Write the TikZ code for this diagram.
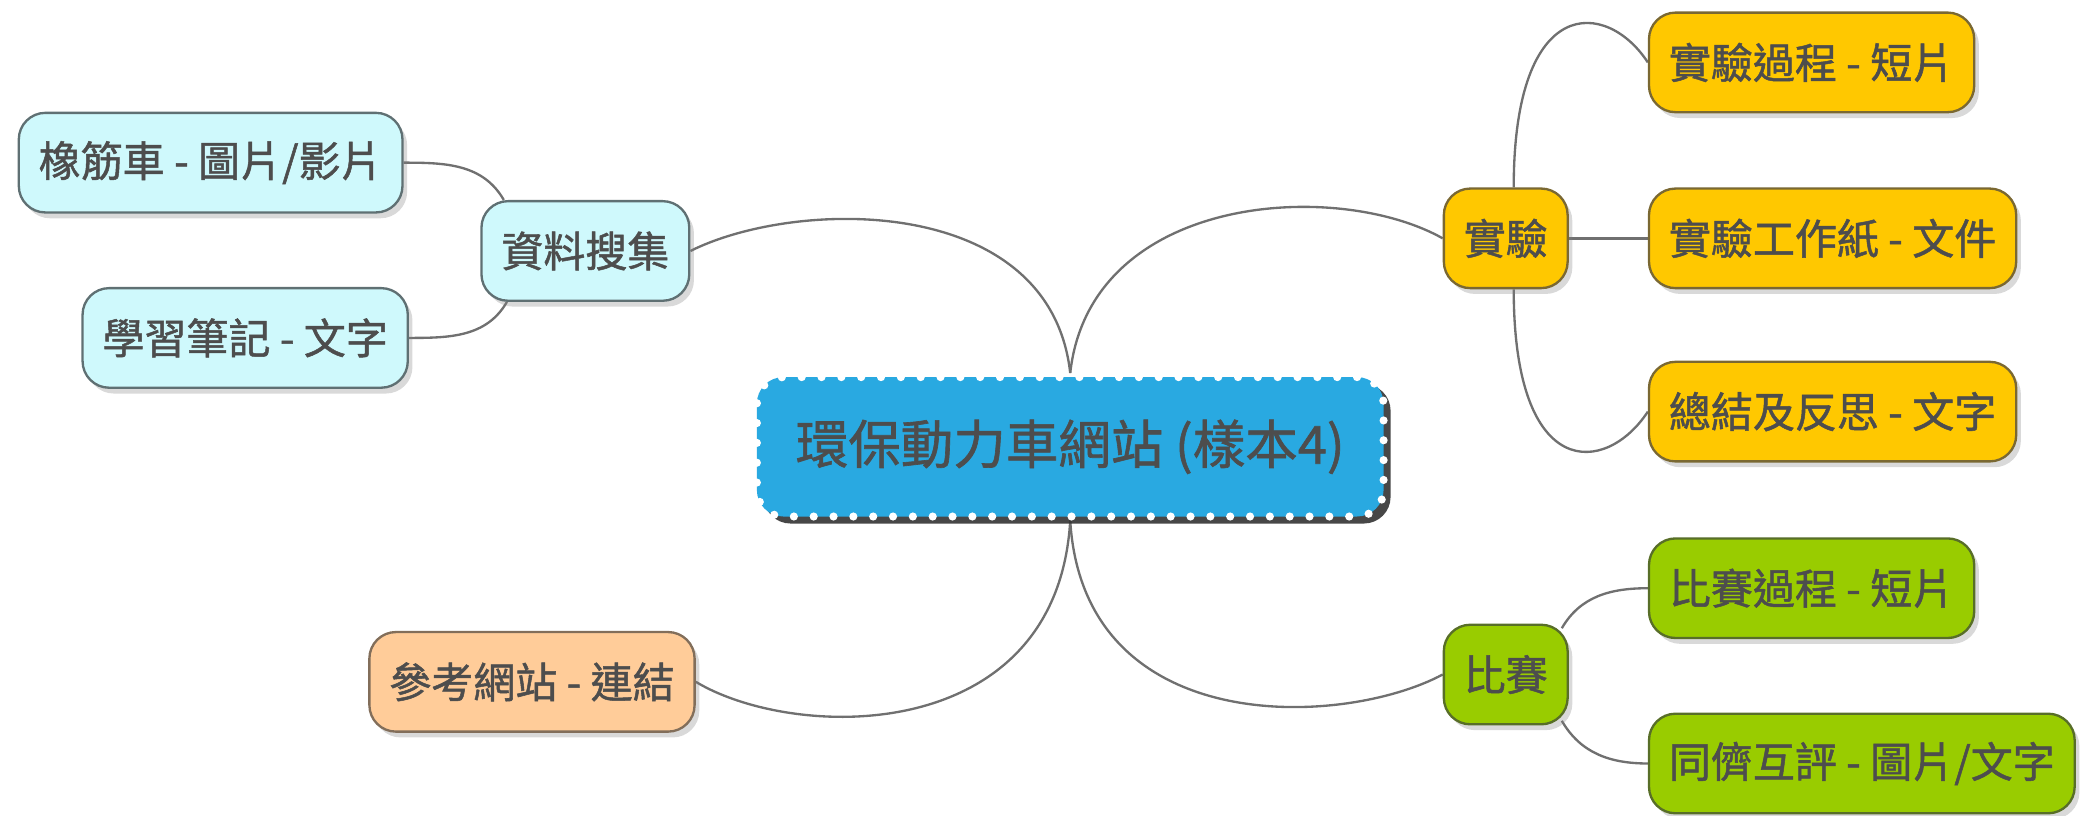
\documentclass[tikz,border=0pt]{standalone}
\usepackage{fontspec}
\setmainfont{Noto Sans CJK TC}[BoldFont={Noto Sans CJK TC}, BoldFeatures={FakeBold=1.2}]
\usetikzlibrary{shadows,backgrounds}

\definecolor{hubblue}{RGB}{41,169,225}
\definecolor{cyanfill}{RGB}{207,249,252}
\definecolor{cyanline}{RGB}{95,112,115}
\definecolor{yellowfill}{RGB}{255,200,0}
\definecolor{yellowline}{RGB}{122,104,50}
\definecolor{greenfill}{RGB}{153,204,0}
\definecolor{greenline}{RGB}{88,110,40}
\definecolor{peachfill}{RGB}{255,204,153}
\definecolor{peachline}{RGB}{130,110,90}
\definecolor{inkgray}{RGB}{77,77,77}
\definecolor{linkgray}{RGB}{112,112,112}

\begin{document}
\begin{tikzpicture}[
  idea/.style={rectangle, rounded corners=0.4cm, line width=1pt, inner xsep=0.3cm,
    minimum height=1.5cm, text=inkgray, font=\fontsize{18}{20}\selectfont\bfseries,
    drop shadow={shadow xshift=2pt, shadow yshift=-2.5pt, opacity=0.3}},
  cyanbox/.style={idea, fill=cyanfill, draw=cyanline},
  yellowbox/.style={idea, fill=yellowfill, draw=yellowline},
  greenbox/.style={idea, fill=greenfill, draw=greenline},
  peachbox/.style={idea, fill=peachfill, draw=peachline},
  link/.style={linkgray, line width=1pt}]
  \useasboundingbox (0,0) rectangle (31.36,12.29);

  \node (site) [
    rectangle,
    rounded corners=0.4cm,
    fill=hubblue,
    draw=white,
    line width=3.5pt,
    dash pattern=on 0pt off 8.5pt,
    line cap=round,
    minimum width=9.44cm,
    minimum height=2.1cm,
    text=inkgray,
    font=\fontsize{22.5}{24}\selectfont\bfseries,
    drop shadow={shadow xshift=3pt, shadow yshift=-3pt, fill=black!80, opacity=0.9}
    ]
    at (16.12,5.56) {環保動力車網站 (樣本4)};

  % left side
  \node[cyanbox,anchor=east] (collect) at (10.4,8.51) {資料搜集};
  \node[cyanbox,anchor=east] (rubber) at (6.08,9.84) {橡筋車 - 圖片/影片};
  \node[cyanbox,anchor=east] (notes) at (6.16,7.2) {學習筆記 - 文字};
  \node[peachbox,anchor=east] (links) at (10.48,2.02) {參考網站 - 連結};

  % right side
  \node[yellowbox] (test) at (22.68,8.7) {實驗};
  \node[yellowbox,anchor=west] (testclip) at (24.82,11.35) {實驗過程 - 短片};
  \node[yellowbox,anchor=west] (testsheet) at (24.82,8.7) {實驗工作紙 - 文件};
  \node[yellowbox,anchor=west] (testsum) at (24.82,6.09) {總結及反思 - 文字};
  \node[greenbox] (match) at (22.68,2.13) {比賽};
  \node[greenbox,anchor=west] (matchclip) at (24.82,3.43) {比賽過程 - 短片};
  \node[greenbox,anchor=west] (review) at (24.82,0.79) {同儕互評 - 圖片/文字};

  \begin{scope}[on background layer]
    \draw[link] (site.north) .. controls +(-0.3,2.7) and +(1.6,0.8) .. (collect.east);
    \draw[link] (site.north) .. controls +(0.3,2.7) and +(-1.6,0.9) .. (test.west);
    \draw[link] (site.south) .. controls +(-0.2,-3.4) and +(1.5,-0.9) .. (links.east);
    \draw[link] (site.south) .. controls +(0.2,-3.3) and +(-1.5,-0.8) .. (match.west);

    \draw[link] (rubber.east) to[out=0,in=120] (collect.148);
    \draw[link] (notes.east) to[out=0,in=-120] (collect.213);

    \draw[link] ([xshift=0.12cm]test.north) .. controls +(0,2.93) and +(-0.62,0.95) .. (testclip.west);
    \draw[link] (test.east) -- (testsheet.west);
    \draw[link] ([xshift=0.12cm]test.south) .. controls +(0,-2.93) and +(-0.62,-0.95) .. (testsum.west);

    \draw[link] ([shift={(-2pt,-2pt)}]match.40) to[out=60,in=180] (matchclip.west);
    \draw[link] ([shift={(-2pt,2pt)}]match.-40) to[out=-60,in=180] (review.west);
  \end{scope}
\end{tikzpicture}
\end{document}
